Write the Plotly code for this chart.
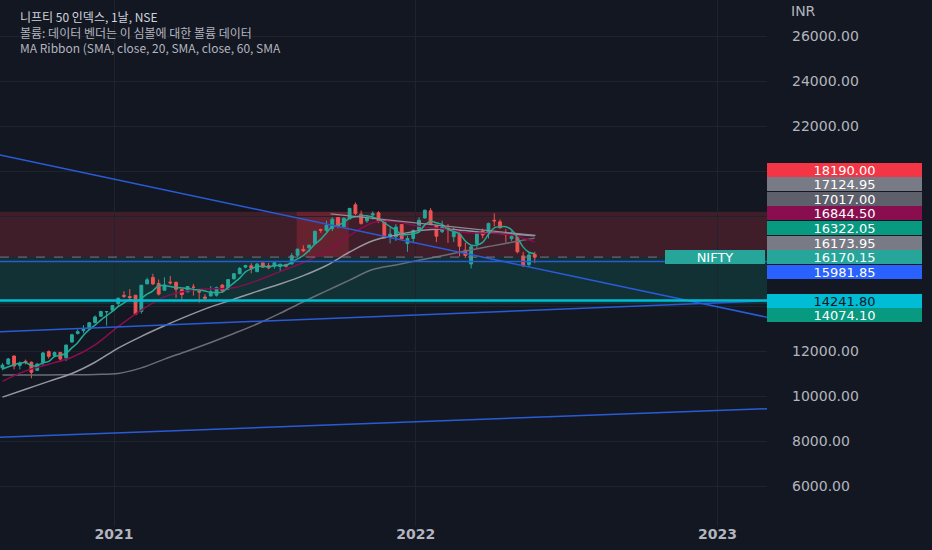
import plotly.graph_objects as go
import pandas as pd

# weekly candles (week centres)
weeks = pd.date_range('2020-08-19', periods=93, freq='7D')

opens = [11250, 11420, 11778, 11360, 11540, 11500, 11140, 11487, 11973, 11800,
         11937, 11697, 12399, 12780, 12906, 12980, 13264, 13548, 13741, 13815,
         14104, 14474, 14422, 14478, 13758, 14983, 15270, 15000, 14702, 15062,
         15048, 14737, 14628, 14837, 14644, 14400, 14449, 14481, 14928, 14756,
         15211, 15437, 15725, 15791, 15525, 15916, 15793, 15766, 15754, 15842,
         15874, 16258, 16518, 16592, 16775, 17399, 17363, 17443, 17932, 17531,
         17867, 18500, 18083, 17783, 18040, 18141, 17796, 17052, 17075, 17619,
         16773, 17000, 17388, 17913, 18235, 17575, 17301, 17456, 17077, 17192,
         16481, 15867, 16761, 17329, 17222, 17810, 17740, 17183, 16989, 17097,
         16227, 15845, 16290]
highs = [11460, 11690, 11794, 11530, 11618, 11535, 11470, 11950, 12025, 11980,
         11942, 12280, 12770, 12963, 13146, 13280, 13579, 13773, 13777, 14049,
         14367, 14654, 14753, 14491, 14932, 15257, 15432, 15176, 15274, 15336,
         15093, 14752, 14883, 14984, 14697, 14527, 14890, 14863, 14966, 15189,
         15469, 15733, 15835, 15901, 15915, 15916, 15915, 15952, 15881, 15880,
         16349, 16543, 16701, 16722, 17340, 17436, 17793, 17947, 17948, 17948,
         18351, 18604, 18242, 18020, 18210, 18210, 17806, 17490, 17640, 17640,
         17118, 17400, 17944, 18286, 18351, 17599, 17794, 17639, 17490, 17352,
         16815, 16694, 17345, 17442, 17703, 18115, 17843, 17414, 17322, 17132,
         16404, 16400, 16415]
lows = [11145, 11380, 11185, 11185, 11400, 10790, 11130, 11347, 11661, 11770,
        11535, 11557, 12367, 12730, 12790, 12962, 13214, 13512, 13131, 13810,
        13954, 14357, 14223, 13596, 13661, 14978, 14930, 14467, 14700, 14953,
        14350, 14264, 14617, 14459, 14151, 14273, 14416, 14416, 14591, 14723,
        15171, 15406, 15678, 15451, 15505, 15705, 15635, 15661, 15514, 15705,
        15834, 16162, 16395, 16394, 16764, 17254, 17270, 17327, 17452, 17520,
        17865, 18034, 17613, 17697, 17839, 17688, 17026, 16782, 16891, 16966,
        16410, 16833, 17384, 17880, 17589, 16837, 17244, 16809, 16843, 16203,
        16133, 15671, 16555, 17006, 17004, 17536, 17443, 16824, 16888, 16340,
        15735, 15740, 15903]
closes = [11372, 11647, 11333, 11465, 11505, 11050, 11417, 11914, 11762, 11930,
          11642, 12264, 12720, 12859, 12968, 13258, 13513, 13760, 13749, 14018,
          14347, 14433, 14372, 13635, 14924, 15163, 14982, 14529, 14938, 15031,
          14744, 14507, 14867, 14834, 14617, 14341, 14631, 14823, 14677, 15175,
          15435, 15670, 15799, 15683, 15860, 15722, 15690, 15923, 15856, 15763,
          16238, 16529, 16451, 16705, 17324, 17369, 17585, 17853, 17532, 17895,
          18339, 18115, 17672, 17917, 18102, 17765, 17027, 17197, 17512, 16985,
          17004, 17354, 17812, 18256, 17617, 17102, 17516, 17375, 17276, 16658,
          16245, 16630, 17287, 17153, 17670, 17784, 17476, 17172, 17102, 16411,
          15782, 16266, 16170.15]

# MA ribbon
sma20 = [11200, 11300, 11390, 11454, 11488, 11338, 11359, 11472, 11536, 11756,
         11812, 11900, 12139, 12371, 12703, 12951, 13150, 13375, 13570, 13760,
         13969, 14137, 14293, 14197, 14341, 14524, 14676, 14900, 14903, 14870,
         14811, 14805, 14787, 14738, 14706, 14665, 14606, 14603, 14618, 14827,
         15028, 15239, 15520, 15647, 15753, 15766, 15739, 15799, 15798, 15808,
         15945, 16097, 16245, 16481, 16752, 16962, 17246, 17533, 17585, 17716,
         17905, 17970, 18005, 18011, 17952, 17864, 17703, 17523, 17375, 17180,
         17175, 17214, 17289, 17607, 17760, 17697, 17623, 17403, 17317, 17206,
         16889, 16702, 16705, 16829, 17185, 17474, 17521, 17526, 17384, 17040,
         16617, 16390, 16322.05]
ma_dates = weeks[::4]
sma60 = [10650, 11115, 11410, 11721, 12275, 13086, 13820, 14404, 14677, 14765,
         14807, 15129, 15526, 15932, 16430, 17132, 17701, 17744, 17539, 17429,
         17267, 17232, 17152, 16844.50]
sma120 = [9950, 10300, 10650, 11000, 11500, 12130, 12650, 13120, 13560, 13960,
          14300, 14650, 14980, 15350, 15800, 16400, 16900, 17150, 17350, 17420,
          17350, 17250, 17200, 17124.95]
sma200 = [10930, 10930, 10935, 10945, 10960, 11000, 11250, 11640, 12000, 12380,
          12780, 13200, 13680, 14190, 14670, 15150, 15620, 15825, 16030, 16235,
          16440, 16640, 16830, 17017.00]

# drawings
edge_dates = ['2020-08-16', '2023-03-02']
down_trend = [20710, 13500]
mid_trend = [12860, 14230]
low_trend = [8165, 9435]
grey_trend_dates = ['2021-09-20', '2022-05-26']
grey_trend = [18090, 17135]
hline_blue = 15981.85
hline_cyan = 14241.80
pos_stop, pos_entry, pos_target = 18190.00, 16173.95, 14074.10
hot_zone = ['2021-08-10', '2021-10-12']

# price-scale labels
label_values = [18190.00, 17124.95, 17017.00, 16844.50, 16322.05, 16173.95,
                16170.15, 15981.85, 14241.80, 14074.10]
label_colors = ['#f23645', '#787b86', '#5d606b', '#880e4f', '#089981', '#787b86',
                '#26a69a', '#2962ff', '#00bcd4', '#089981']
label_text_colors = ['#ffffff'] * 8 + ['#131722', '#ffffff']
last_price = 16170.15
price_ticks = list(range(6000, 26001, 2000))

bg = '#131722'
txt = '#b2b5be'
grid = '#1f232e'
y_lo, y_hi = 4222.2, 27600
W, H = 932, 550
mt, mb, mr = 0, 24, 165
plot_h = H - mt - mb

fig = go.Figure()

fig.add_trace(go.Candlestick(
    x=weeks, open=opens, high=highs, low=lows, close=closes,
    increasing=dict(line=dict(color='#26a69a', width=1), fillcolor='#26a69a'),
    decreasing=dict(line=dict(color='#ef5350', width=1), fillcolor='#ef5350'),
    whiskerwidth=0, showlegend=False, hoverinfo='skip'))

fig.add_scatter(x=ma_dates, y=sma200, mode='lines', line=dict(color='#6a6d78', width=1.5, shape='spline'),
                showlegend=False, hoverinfo='skip')
fig.add_scatter(x=ma_dates, y=sma120, mode='lines', line=dict(color='#9598a1', width=1.5, shape='spline'),
                showlegend=False, hoverinfo='skip')
fig.add_scatter(x=ma_dates, y=sma60, mode='lines', line=dict(color='#880e4f', width=1.5, shape='spline'),
                showlegend=False, hoverinfo='skip')
fig.add_scatter(x=weeks, y=sma20, mode='lines', line=dict(color='#22ab94', width=1.5, shape='spline'),
                showlegend=False, hoverinfo='skip')

# trend lines
fig.add_scatter(x=grey_trend_dates, y=grey_trend, mode='lines', line=dict(color='#8a8d96', width=1.2),
                showlegend=False, hoverinfo='skip')
for vals in (down_trend, mid_trend, low_trend):
    fig.add_scatter(x=edge_dates, y=vals, mode='lines', line=dict(color='#2a5bd7', width=1.5),
                    showlegend=False, hoverinfo='skip')

# position tool + horizontal lines
fig.add_shape(type='rect', xref='paper', x0=0, x1=1, y0=pos_entry, y1=pos_stop,
              fillcolor='rgba(242,54,69,0.2)', line_width=0, layer='below')
fig.add_shape(type='rect', xref='x', x0=hot_zone[0], x1=hot_zone[1], y0=pos_entry, y1=pos_stop,
              fillcolor='rgba(242,54,69,0.22)', line_width=0, layer='below')
fig.add_shape(type='rect', xref='paper', x0=0, x1=1, y0=pos_target, y1=pos_entry,
              fillcolor='rgba(8,153,129,0.2)', line_width=0, layer='below')
fig.add_shape(type='line', xref='paper', x0=0, x1=1, y0=pos_entry, y1=pos_entry,
              line=dict(color='#787b86', width=1, dash='dash'))
fig.add_shape(type='line', xref='paper', x0=0, x1=1, y0=hline_blue, y1=hline_blue,
              line=dict(color='#2a5bd7', width=1.5))
fig.add_shape(type='line', xref='paper', x0=0, x1=1, y0=hline_cyan, y1=hline_cyan,
              line=dict(color='#00bcd4', width=2.5))


def to_px(v):
    return (y_hi - v) / (y_hi - y_lo) * plot_h


# stack the price labels around the last price, like the price scale does
slot = 14.6
order = sorted(range(len(label_values)), key=lambda i: -label_values[i])
anchor = label_values.index(last_price)
pos = {anchor: to_px(last_price)}
k = order.index(anchor)
prev = pos[anchor]
for i in reversed(order[:k]):
    prev = min(to_px(label_values[i]), prev - slot)
    pos[i] = prev
prev = pos[anchor]
for i in order[k + 1:]:
    prev = max(to_px(label_values[i]), prev + slot)
    pos[i] = prev

# scale labels hidden under the price boxes are not drawn
shown_ticks = [t for t in price_ticks
               if all(abs(to_px(t) - p) > slot / 2 + 7 for p in pos.values())]

annotations = []
for i, v in enumerate(label_values):
    annotations.append(dict(
        xref='paper', x=1, xanchor='left', yref='paper', y=1 - pos[i] / plot_h, yanchor='middle',
        text='%.2f' % v, showarrow=False, bgcolor=label_colors[i], borderwidth=0, borderpad=1,
        width=153, height=12, align='center',
        font=dict(family='DejaVu Sans', size=13, color=label_text_colors[i])))

annotations.append(dict(
    xref='paper', x=1, xanchor='right', xshift=-2, yref='paper', y=1 - pos[anchor] / plot_h,
    yanchor='middle', text='NIFTY', showarrow=False, bgcolor='#26a69a', borderwidth=0,
    borderpad=1, width=98, height=12, font=dict(family='DejaVu Sans', size=13, color='#ffffff')))

annotations.append(dict(
    xref='paper', x=1, xanchor='left', xshift=22, yref='paper', y=1, yanchor='middle', yshift=-11,
    text='INR', showarrow=False, font=dict(family='DejaVu Sans', size=14, color=txt)))

# legend block in the top-left corner, one text with three lines
title_lines = ['니프티 50 인덱스, 1날, NSE',
               '볼륨: 데이터 벤더는 이 심볼에 대한 볼륨 데이터',
               'MA Ribbon (SMA, close, 20, SMA, close, 60, SMA']
title_colors = ['#d1d4dc', txt, txt]
legend_text = '<br>'.join("<span style='color:%s'>%s</span>" % (c, t)
                          for t, c in zip(title_lines, title_colors))
annotations.append(dict(
    xref='paper', x=0, xanchor='left', xshift=18, yref='paper', y=1, yanchor='top', yshift=-6,
    text=legend_text, showarrow=False, align='left',
    font=dict(family='Noto Sans CJK KR', size=12, color=txt)))

fig.update_layout(
    width=W, height=H,
    margin=dict(l=0, r=mr, t=mt, b=mb),
    paper_bgcolor=bg, plot_bgcolor=bg,
    hovermode=False,
    annotations=annotations,
    xaxis=dict(
        type='date', range=edge_dates, rangeslider=dict(visible=False),
        tick0='2021-01-01', dtick='M12', tickformat='%Y',
        showgrid=True, gridcolor=grid, gridwidth=1, zeroline=False, showline=False,
        ticklabelstandoff=-2,
        tickfont=dict(family='DejaVu Sans', size=14, color=txt, weight='bold')),
    yaxis=dict(
        side='right', range=[y_lo, y_hi], tickmode='array', tickvals=shown_ticks,
        tickformat='.2f', showgrid=True, gridcolor=grid, gridwidth=1,
        minor=dict(tickmode='linear', tick0=0, dtick=2000, showgrid=True, gridcolor=grid, gridwidth=1),
        zeroline=False, showline=False, ticklabelstandoff=24,
        tickfont=dict(family='DejaVu Sans', size=14, color=txt)),
)

fig.write_html("out.html", config={'displayModeBar': False},
               post_script="document.body.style.margin='0';document.body.style.overflow='hidden';")
